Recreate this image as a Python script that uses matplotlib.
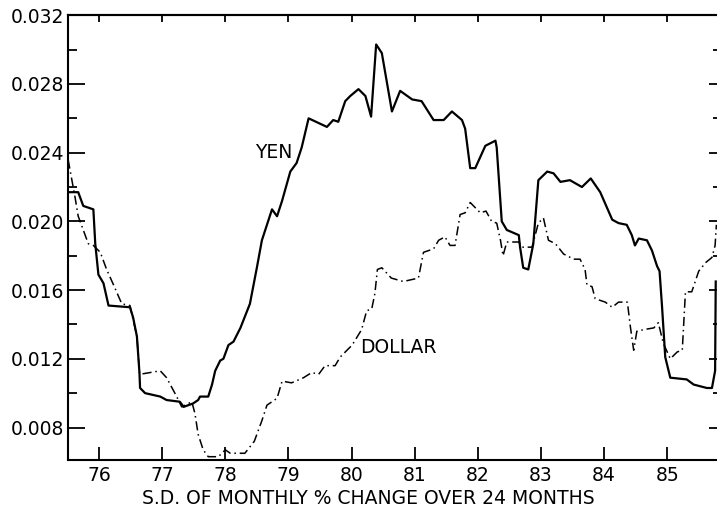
import matplotlib.pyplot as plt
from matplotlib.ticker import MultipleLocator, FormatStrFormatter

# Yen series: (year, s.d. of monthly % change over 24 months)
yen_years = [75.51, 75.67, 75.75, 75.91, 75.94, 75.99, 76.07, 76.15, 76.49, 76.54,
             76.60, 76.64, 76.65, 76.73, 76.97, 77.07, 77.28, 77.34, 77.49, 77.57,
             77.60, 77.73, 77.79, 77.84, 77.92, 77.97, 78.05, 78.13, 78.24, 78.39,
             78.50, 78.58, 78.74, 78.82, 78.90, 79.03, 79.13, 79.21, 79.32, 79.61,
             79.71, 79.79, 79.90, 79.98, 80.11, 80.22, 80.31, 80.39, 80.48, 80.64,
             80.77, 80.96, 81.11, 81.30, 81.46, 81.59, 81.75, 81.80, 81.88, 81.96,
             82.12, 82.28, 82.30, 82.38, 82.46, 82.65, 82.67, 82.72, 82.80, 82.88,
             82.96, 83.10, 83.20, 83.31, 83.46, 83.65, 83.79, 83.94, 84.13, 84.23,
             84.36, 84.44, 84.49, 84.55, 84.68, 84.76, 84.84, 84.88, 84.92, 84.97,
             85.05, 85.31, 85.42, 85.63, 85.71, 85.76, 85.77]
yen_sd = [0.0217, 0.0217, 0.0209, 0.0207, 0.0187, 0.0169, 0.0164, 0.0151, 0.0150, 0.0144,
          0.0133, 0.0112, 0.0103, 0.0100, 0.0098, 0.0096, 0.0095, 0.0092, 0.0094, 0.0096,
          0.0098, 0.0098, 0.0105, 0.0113, 0.0119, 0.0120, 0.0128, 0.0130, 0.0138, 0.0152,
          0.0173, 0.0189, 0.0207, 0.0203, 0.0212, 0.0229, 0.0234, 0.0243, 0.0260, 0.0255,
          0.0259, 0.0258, 0.0270, 0.0273, 0.0277, 0.0273, 0.0261, 0.0303, 0.0298, 0.0264,
          0.0276, 0.0271, 0.0270, 0.0259, 0.0259, 0.0264, 0.0259, 0.0254, 0.0231, 0.0231,
          0.0244, 0.0247, 0.0243, 0.0200, 0.0195, 0.0192, 0.0185, 0.0173, 0.0172, 0.0187,
          0.0224, 0.0229, 0.0228, 0.0223, 0.0224, 0.0220, 0.0225, 0.0217, 0.0201, 0.0199,
          0.0198, 0.0192, 0.0186, 0.0190, 0.0189, 0.0183, 0.0174, 0.0171, 0.0150, 0.0121,
          0.0109, 0.0108, 0.0105, 0.0103, 0.0103, 0.0113, 0.0165]

# Dollar series
dollar_years = [75.51, 75.57, 75.62, 75.67, 75.75, 75.83, 75.91, 76.02, 76.12, 76.23,
                76.36, 76.49, 76.60, 76.64, 76.65, 76.81, 76.97, 77.07, 77.23, 77.31,
                77.47, 77.52, 77.57, 77.65, 77.73, 77.89, 78.00, 78.08, 78.31, 78.46,
                78.58, 78.66, 78.82, 78.90, 79.05, 79.24, 79.37, 79.48, 79.58, 79.74,
                79.82, 80.01, 80.16, 80.24, 80.32, 80.37, 80.41, 80.48, 80.63, 80.82,
                81.06, 81.14, 81.30, 81.38, 81.48, 81.56, 81.64, 81.72, 81.80, 81.88,
                82.04, 82.13, 82.22, 82.30, 82.36, 82.40, 82.46, 82.65, 82.70, 82.86,
                82.96, 83.04, 83.12, 83.23, 83.36, 83.52, 83.62, 83.70, 83.73, 83.81,
                83.86, 84.02, 84.13, 84.23, 84.37, 84.42, 84.47, 84.52, 84.63, 84.79,
                84.86, 84.94, 85.05, 85.16, 85.24, 85.29, 85.39, 85.50, 85.61, 85.71,
                85.76, 85.78]
dollar_sd = [0.0236, 0.0224, 0.0214, 0.0203, 0.0195, 0.0187, 0.0186, 0.0182, 0.0172, 0.0163,
             0.0152, 0.0151, 0.0133, 0.0112, 0.0111, 0.0112, 0.0113, 0.0109, 0.0098, 0.0092,
             0.0095, 0.0088, 0.0076, 0.0067, 0.0063, 0.0063, 0.0067, 0.0065, 0.0065, 0.0072,
             0.0084, 0.0093, 0.0097, 0.0107, 0.0106, 0.0109, 0.0112, 0.0111, 0.0116, 0.0116,
             0.0121, 0.0128, 0.0137, 0.0148, 0.0149, 0.0158, 0.0172, 0.0173, 0.0167, 0.0165,
             0.0167, 0.0182, 0.0184, 0.0189, 0.0191, 0.0186, 0.0186, 0.0204, 0.0205, 0.0211,
             0.0205, 0.0206, 0.0200, 0.0199, 0.0189, 0.0180, 0.0188, 0.0188, 0.0185, 0.0185,
             0.0199, 0.0202, 0.0189, 0.0187, 0.0181, 0.0178, 0.0178, 0.0172, 0.0163, 0.0162,
             0.0155, 0.0153, 0.0150, 0.0153, 0.0153, 0.0138, 0.0125, 0.0136, 0.0137, 0.0138,
             0.0141, 0.0129, 0.0120, 0.0124, 0.0125, 0.0159, 0.0159, 0.0171, 0.0176, 0.0179,
             0.0186, 0.0198]

year_ticks = list(range(76, 86))

fig = plt.figure(figsize=(7.17, 5.09), dpi=100)
ax = fig.add_axes([0.095, 0.096, 0.905, 0.874])

ax.plot(yen_years, yen_sd, color='black', linewidth=1.6)
ax.plot(dollar_years, dollar_sd, color='black', linewidth=1.1,
        linestyle=(0, (6, 2.5, 1, 2.5)))

ax.text(78.77, 0.0240, 'YEN', fontsize=13.5, ha='center', va='center')
ax.text(80.75, 0.01263, 'DOLLAR', fontsize=13.5, ha='center', va='center')

ax.set_xlim(75.51, 85.79)
ax.set_ylim(0.0061, 0.032)

ax.set_xticks(year_ticks)
ax.yaxis.set_major_locator(MultipleLocator(0.004))
ax.yaxis.set_minor_locator(MultipleLocator(0.002))
ax.yaxis.set_major_formatter(FormatStrFormatter('%.3f'))
ax.tick_params(axis='x', direction='in', length=9.5, width=1.3, pad=4, labelsize=13.5)
ax.tick_params(axis='y', which='major', direction='in', length=12, width=1.3, pad=3, labelsize=13.5)
ax.tick_params(axis='y', which='minor', direction='in', length=6.5, width=1.3)

# tick marks along the top and right edges, no labels
top = ax.secondary_xaxis('top')
top.set_xticks(year_ticks)
top.tick_params(direction='in', length=5, width=1.3, labeltop=False)
right = ax.secondary_yaxis('right')
right.yaxis.set_major_locator(MultipleLocator(0.004))
right.yaxis.set_minor_locator(MultipleLocator(0.002))
right.tick_params(which='major', direction='in', length=6, width=1.3, labelright=False)
right.tick_params(which='minor', direction='in', length=3, width=1.3)

for s in ax.spines.values():
    s.set_linewidth(1.5)
ax.spines['right'].set_visible(False)
top.spines['top'].set_linewidth(1.5)
right.spines['right'].set_visible(False)

ax.set_xlabel('S.D. OF MONTHLY % CHANGE OVER 24 MONTHS', fontsize=13.5, labelpad=3)
ax.xaxis.set_label_coords(0.462, -0.065)

fig.savefig('out.png', dpi=100)
